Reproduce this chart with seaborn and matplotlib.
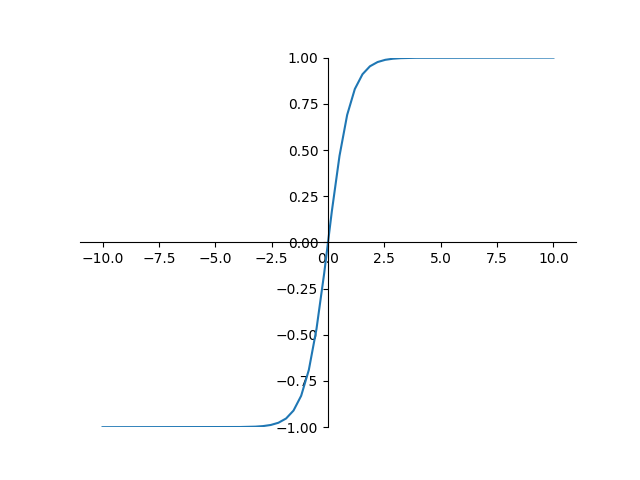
import matplotlib
matplotlib.use("Agg")
import pandas as pd
import seaborn as sns
import matplotlib.pyplot as plt


# valores (curva em forma de S, tanh)
x_vals = [-10.0, -3.9, -3.56, -3.22, -2.88, -2.54, -2.2, -1.86, -1.53, -1.19, -0.85, -0.51, -0.17,
          0.17, 0.51, 0.85, 1.19, 1.53, 1.86, 2.2, 2.54, 2.88, 3.22, 3.56, 3.9, 10.0]
y_vals = [-1.0, -0.999, -0.998, -0.997, -0.994, -0.988, -0.976, -0.953, -0.91, -0.83, -0.69, -0.468, -0.168,
          0.168, 0.468, 0.69, 0.83, 0.91, 0.953, 0.976, 0.988, 0.994, 0.997, 0.998, 0.999, 1.0]

df = pd.DataFrame({"x": x_vals, "y": y_vals})

fig, ax = plt.subplots(figsize=(6.4, 4.8), dpi=100)
sns.lineplot(data=df, x="x", y="y", ax=ax, color="#1f77b4", linewidth=1.5)

ax.set_ylim(-1, 1)
ax.set_xlim(-11, 11)
ax.set_xlabel("")
ax.set_ylabel("")

# Eixos cruzando na origem.
ax.spines["left"].set_position("zero")
ax.spines["bottom"].set_position("zero")
ax.spines["right"].set_visible(False)
ax.spines["top"].set_visible(False)

fig.savefig("out.png", dpi=100)
